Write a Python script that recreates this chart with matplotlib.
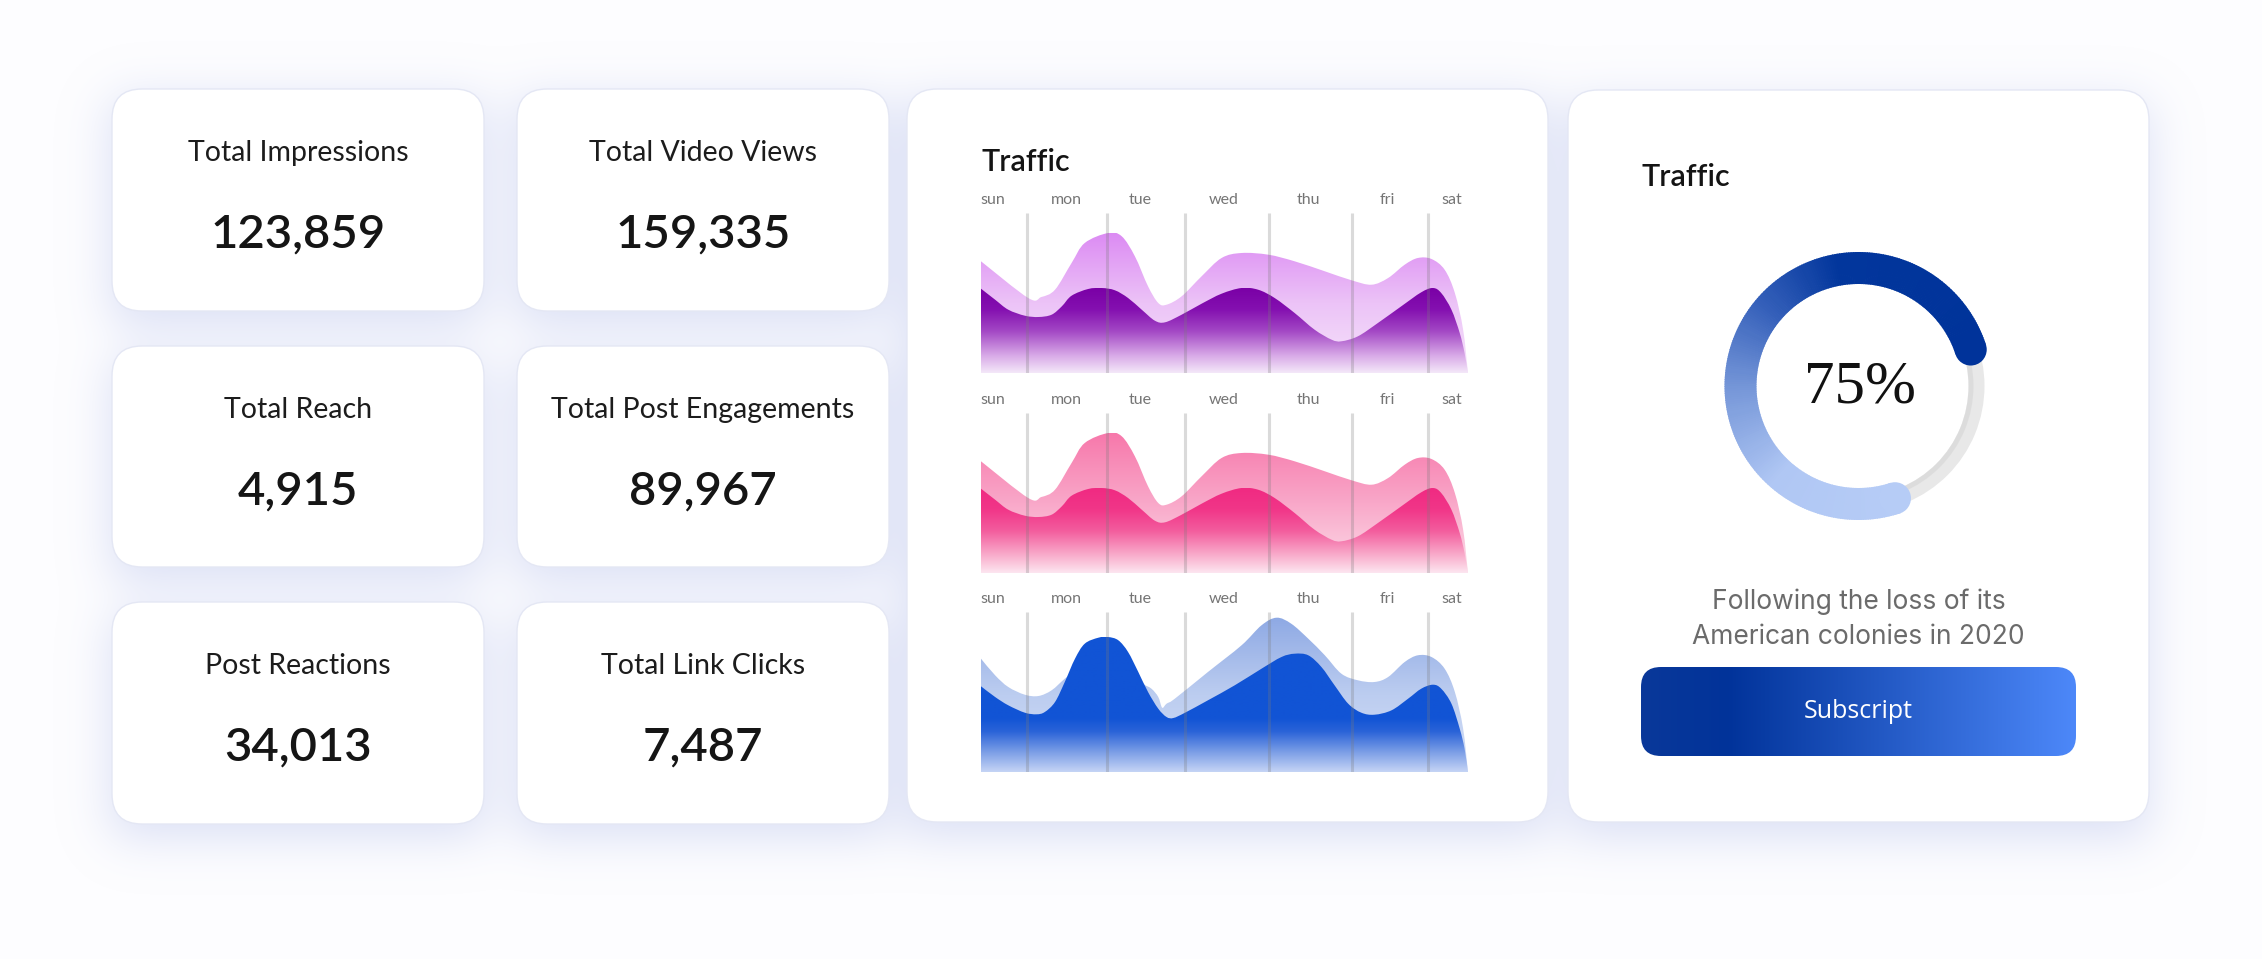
import numpy as np
import matplotlib.pyplot as plt
from matplotlib.patches import FancyBboxPatch, PathPatch, Wedge, Circle
from matplotlib.path import Path
from matplotlib.colors import LinearSegmentedColormap

W, H = 2262, 959

# ---- data ----
card_titles = ["Total Impressions", "Total Video Views", "Total Reach",
               "Total Post Engagements", "Post Reactions", "Total Link Clicks"]
card_values = [123859, 159335, 4915, 89967, 34013, 7487]

days = ["sun", "mon", "tue", "wed", "thu", "fri", "sat"]
day_pos = [2.5, 17.6, 32.7, 49.9, 67.2, 83.5, 96.6]
grid_pos = [9.5, 25.9, 41.9, 59.2, 76.1, 91.8]

# purple and pink charts share this wave
wave_back_x = [0, 9.7, 12.4, 15.2, 18.6, 21.3, 26.1, 28.9, 31.6, 34.3, 36.4, 38.1, 41.2,
               45.3, 49.4, 53.5, 59.0, 64.4, 70.6, 76.1, 80.2, 83.6, 87.0, 89.7, 92.5,
               95.2, 97.3, 99.0, 100]
wave_back_y = [111.7, 75, 76, 83.3, 110, 130, 140, 136.7, 116.7, 86.7, 70, 68.3, 76.7,
               96.7, 115, 120, 118.3, 111.7, 101.7, 92.7, 88.3, 95, 108.3, 115, 114,
               103.3, 80, 43.3, 0]
wave_front_x = [0, 2.9, 5.6, 9.0, 11.8, 14.5, 16.6, 18.6, 22.0, 24.8, 27.5, 30.2, 33.0,
                35.7, 37.8, 41.2, 45.3, 49.4, 53.5, 56.9, 60.3, 64.4, 68.5, 72.0, 74.0,
                77.4, 81.5, 86.3, 90.4, 92.8, 94.5, 96.6, 98.3, 99.3, 100]
wave_front_y = [84.3, 73.3, 63.3, 57.3, 56, 58.3, 66.7, 77.3, 84, 85, 82.7, 75, 63.3,
                52.3, 50.7, 58.3, 69.3, 79.3, 85, 83.3, 75, 60, 43.3, 33.3, 31.7,
                36.7, 50, 66.7, 80.7, 85, 80, 63.3, 40, 20, 0]

# blue chart
blue_back_x = [0, 2.9, 5.6, 9.0, 11.8, 14.5, 17.2, 19.3, 21.3, 26.1, 30.2, 33.0, 35.0,
               36.4, 37.2, 38.1, 39.8, 46.6, 53.5, 57.6, 60.7, 63.7, 67.2, 70.6, 74.0,
               77.4, 80.8, 83.6, 87.0, 89.7, 92.5, 95.2, 97.3, 99.0, 100]
blue_back_y = [113.3, 96.7, 85, 77.3, 76, 81.7, 93.3, 101, 110, 118, 105, 89.3, 83.3,
               75, 64.3, 68.3, 73.3, 100, 126.7, 146.7, 154.3, 148.3, 133.3, 116.7, 98.3,
               91.7, 90, 95, 110, 116.7, 115, 103.3, 80, 43.3, 0]
blue_front_x = [0, 2.9, 5.6, 9.0, 11.4, 13.1, 15.2, 17.2, 19.3, 21.3, 24.1, 26.1, 28.2,
                30.2, 32.3, 34.3, 36.4, 38.1, 39.5, 41.9, 46.6, 52.1, 57.6, 61.7, 64.4,
                67.2, 69.9, 72.6, 75.4, 78.1, 80.8, 84.3, 87.7, 90.4, 92.8, 94.5, 96.6,
                98.3, 99.3, 100]
blue_front_y = [85.7, 75, 66.7, 59.3, 57.7, 60, 70, 90, 113.3, 128.3, 134.3, 135, 131.7,
                120, 100, 80, 63.3, 55, 54, 59.3, 71.7, 86.7, 103.3, 115, 118.3,
                116.7, 105, 86.7, 68.3, 59.3, 57.3, 61.7, 73.3, 83.3, 87.3, 83.3, 68.3,
                43.3, 23.3, 0]

progress = 75
note_lines = ["Following the loss of its", "American colonies in 2020"]
button_label = "Subscript"

FONT = ["Lato", "DejaVu Sans"]


def cmap_of(stops):
    return LinearSegmentedColormap.from_list("c", stops)


fig = plt.figure(figsize=(W / 100, H / 100), dpi=100)
fig.patch.set_facecolor("#fdfdff")
bg = fig.add_axes([0, 0, 1, 1])
bg.axis("off")

cols = [(112, 484), (517, 889)]
rows = [(89, 311), (346, 567), (602, 824)]
boxes = [(cols[i % 2][0], rows[i // 2][0], cols[i % 2][1], rows[i // 2][1]) for i in range(6)]
boxes += [(907, 89, 1548, 822), (1568, 90, 2149, 822)]

# blurred bluish drop shadow under all cards (y measured from the top)
s = 4
mask = np.zeros((H // s + 1, W // s + 1))
for x0, y0, x1, y1 in boxes:
    mask[(y0 + 14) // s:(y1 + 14) // s, x0 // s:x1 // s] = 1
sig = 24 / s
kx = np.arange(-int(3 * sig), int(3 * sig) + 1)
kern = np.exp(-kx ** 2 / (2 * sig ** 2))
kern /= kern.sum()
blur = np.apply_along_axis(lambda r: np.convolve(r, kern, mode="same"), 1, mask)
blur = np.apply_along_axis(lambda c: np.convolve(c, kern, mode="same"), 0, blur)
shadow = np.zeros(blur.shape + (4,))
shadow[..., :3] = (0.78, 0.81, 0.94)
shadow[..., 3] = 0.65 * blur
bg.imshow(shadow, extent=[0, mask.shape[1] * s, H - mask.shape[0] * s, H],
          origin="upper", aspect="auto", interpolation="bilinear", zorder=1)

for x0, y0, x1, y1 in boxes:
    bg.add_patch(FancyBboxPatch((x0, H - y1), x1 - x0, y1 - y0,
                                boxstyle="round,pad=0,rounding_size=30",
                                fc="white", ec="#e4e7f4", lw=1, zorder=2))

# ---- stat cards ----
for (x0, y0, x1, y1), t, v in zip(boxes, card_titles, card_values):
    cx = (x0 + x1) / 2
    bg.text(cx, H - (y0 + 64), t, ha="center", va="center", fontsize=20.5,
            color="#1c1c1c", family=FONT, zorder=3)
    bg.text(cx, H - (y0 + 146), f"{v:,}", ha="center", va="center", fontsize=34,
            color="#151515", family=FONT, fontweight="semibold", zorder=3)

# ---- traffic area card ----
bg.text(981, H - 162, "Traffic", ha="left", va="center", fontsize=22,
        color="#141414", family=FONT, fontweight="semibold", zorder=3)


def smooth_area(x, y):
    # closed area under a smooth (Catmull-Rom style) curve through the points
    pts = np.column_stack([x, y])
    n = len(pts)
    verts = [(x[0], 0), (x[0], y[0])]
    codes = [Path.MOVETO, Path.LINETO]
    for i in range(n - 1):
        p0 = pts[max(i - 1, 0)]
        p1, p2 = pts[i], pts[i + 1]
        p3 = pts[min(i + 2, n - 1)]
        c1 = p1 + (p2 - p0) / 6
        c2 = p2 - (p3 - p1) / 6
        verts += [tuple(c1), tuple(c2), tuple(p2)]
        codes += [Path.CURVE4] * 3
    verts += [(x[-1], 0), (x[0], 0)]
    codes += [Path.LINETO, Path.CLOSEPOLY]
    return Path(verts, codes)


def grad_fill(ax, x, y, stops):
    patch = PathPatch(smooth_area(x, y), fc="none", ec="none")
    ax.add_patch(patch)
    g = np.linspace(0, 1, 256).reshape(-1, 1)
    im = ax.imshow(g, cmap=cmap_of(stops), origin="lower", aspect="auto",
                   extent=[0, 100, 0, max(y)], vmin=0, vmax=1, interpolation="bilinear")
    im.set_clip_path(patch)


charts = [
    (213, wave_back_x, wave_back_y, wave_front_x, wave_front_y,
     ["#f6e4fb", "#ecc3f7", "#dc8bf3"],
     [(0, "#f4e8f9"), (0.2, "#d9abe8"), (0.5, "#a246c4"), (0.75, "#8410b0"), (1, "#7a00a6")]),
    (413, wave_back_x, wave_back_y, wave_front_x, wave_front_y,
     ["#fcdde9", "#f9a8c9", "#f778ab"],
     [(0, "#fde6f0"), (0.2, "#f9afcd"), (0.5, "#f35c9d"), (0.75, "#f13688"), (1, "#f02a82")]),
    (612, blue_back_x, blue_back_y, blue_front_x, blue_front_y,
     ["#d3def6", "#bccdf0", "#8ea9e4"],
     [(0, "#c5d4f5"), (0.15, "#7a9de6"), (0.3, "#2a63d8"), (0.4, "#1154d5"), (1, "#1154d5")]),
]
for top, bx, by, fx, fy, back_c, front_c in charts:
    ax = fig.add_axes([981 / W, (H - top - 160) / H, 487 / W, 160 / H])
    ax.axis("off")
    grad_fill(ax, bx, by, back_c)
    grad_fill(ax, fx, fy, front_c)
    ax.vlines(grid_pos, 0, 160, color="#7a7a7a", alpha=0.28, lw=2.2, zorder=5)
    for d, p in zip(days, day_pos):
        ax.text(p, 173, d, ha="center", va="center", fontsize=11.5, color="#757575",
                family=FONT, clip_on=False)
    ax.set_xlim(0, 100)
    ax.set_ylim(0, 160)

# ---- donut card ----
bg.text(1641, H - 177, "Traffic", ha="left", va="center", fontsize=22,
        color="#141414", family=FONT, fontweight="semibold", zorder=3)

cx, cy = 1858.5, H - 386
bg.add_patch(Wedge((cx, cy), 126, 0, 360, width=16, fc="#e8e8e8", ec="none", zorder=3))
bg.add_patch(Wedge((cx, cy), 115, 0, 360, width=5, fc="#d2d2d2", ec="none", alpha=0.5, zorder=3))

ring_cmap = cmap_of([(0, "#00339a"), (0.3, "#02369c"), (0.45, "#3560ba"),
                     (0.6, "#7596d8"), (0.78, "#b0c7f4"), (1, "#b6ccf6")])
start = 18
span = progress / 100 * 360
steps = int(span)
for k in range(steps):
    a0 = start + span * k / steps
    a1 = start + span * (k + 1) / steps + 0.4
    bg.add_patch(Wedge((cx, cy), 134, a0, a1, width=32, fc=ring_cmap(k / steps),
                       ec="none", zorder=4))
for a, t in [(start, 0.0), (start + span, 1.0)]:
    r = np.deg2rad(a)
    bg.add_patch(Circle((cx + 118 * np.cos(r), cy + 118 * np.sin(r)), 16,
                        fc=ring_cmap(t), ec="none", zorder=4))

bg.text(cx + 1, cy - 2, f"{progress}%", ha="center", va="center", fontsize=44,
        color="#111111", family=["Liberation Serif", "DejaVu Serif"], zorder=5)

for line, yy in zip(note_lines, [602, 637]):
    bg.text(cx, H - yy, line, ha="center", va="center", fontsize=19,
            color="#6b6b6b", family=["Inter", "DejaVu Sans"], zorder=3)

btn = FancyBboxPatch((1641, H - 756), 435, 89, boxstyle="round,pad=0,rounding_size=20",
                     fc="none", ec="none", zorder=3)
bg.add_patch(btn)
grad = np.linspace(0, 1, 256).reshape(1, -1)
im = bg.imshow(grad, cmap=cmap_of([(0, "#0a3899"), (0.2, "#01339a"), (1, "#4d88f9")]),
               extent=[1641, 2076, H - 756, H - 667], aspect="auto", zorder=3)
im.set_clip_path(btn)
bg.text(cx, H - 712, button_label, ha="center", va="center", fontsize=18,
        color="white", family=["Open Sans", "DejaVu Sans"], zorder=4)

bg.set_xlim(0, W)
bg.set_ylim(0, H)

fig.savefig("out.png", dpi=100, facecolor=fig.get_facecolor())
